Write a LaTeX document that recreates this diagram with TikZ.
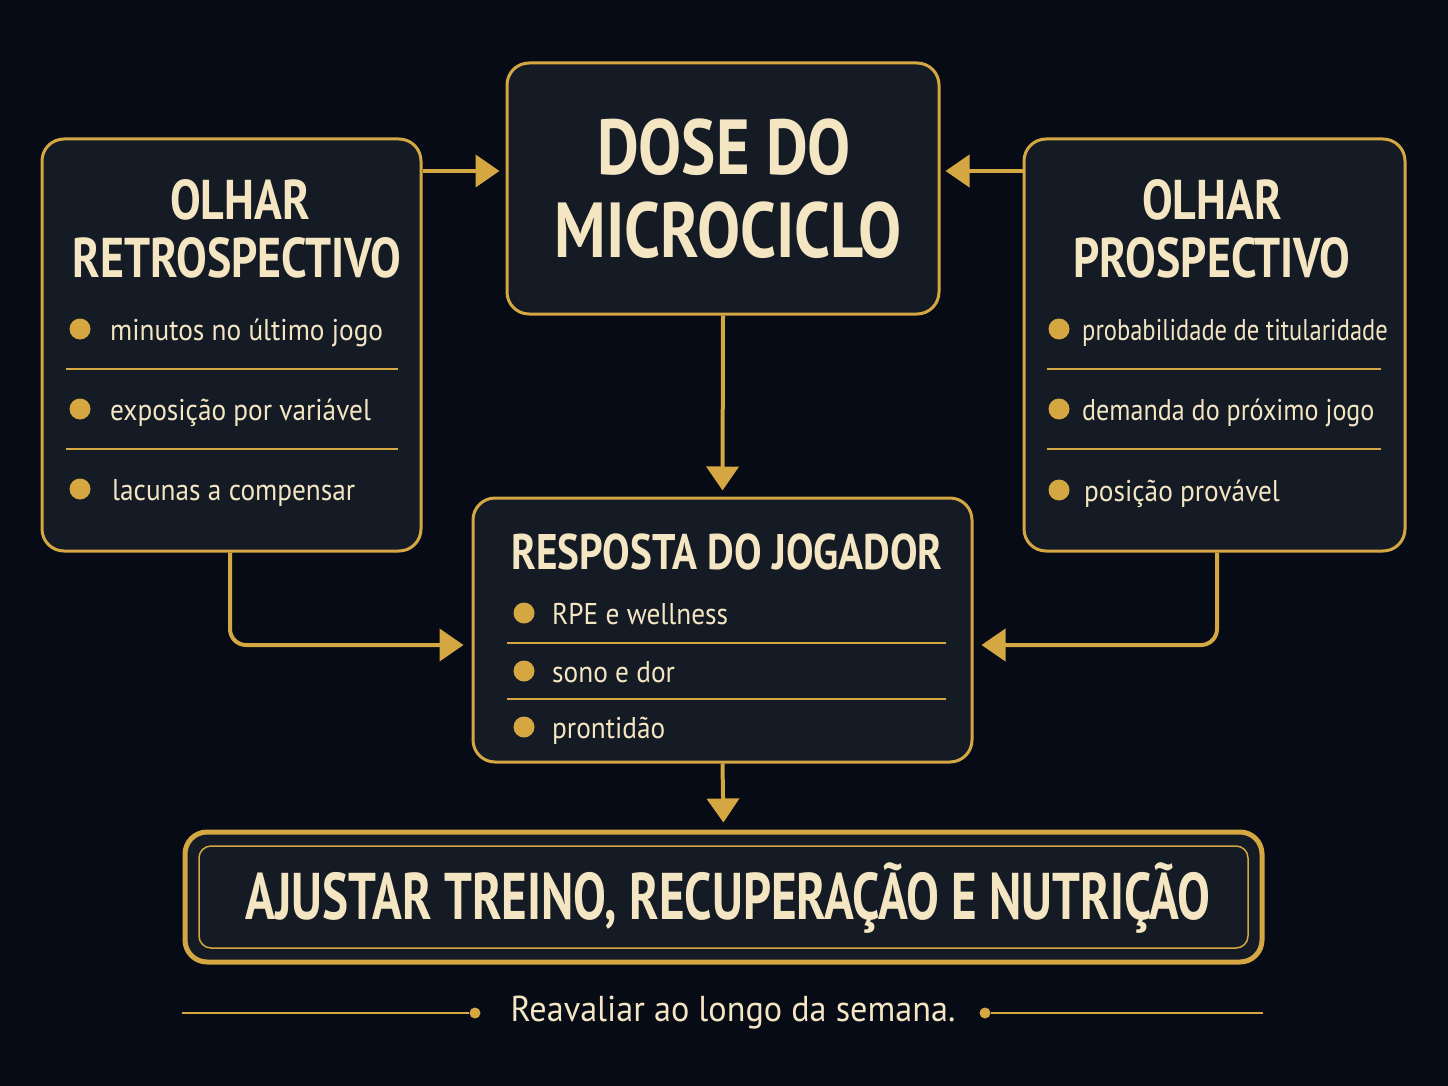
\documentclass[tikz,border=0pt]{standalone}
\usepackage{fontspec}
\usepackage{graphicx}
\setmainfont{PT Sans}
\newfontfamily\bodyfont{PT Sans}[FakeStretch=0.91]
\newfontfamily\footfont{PT Sans}[FakeStretch=0.95]
\usetikzlibrary{arrows.meta}
\definecolor{bg}{HTML}{060B16}
\definecolor{boxfill}{HTML}{151B25}
\definecolor{gold}{HTML}{D4A743}
\definecolor{cream}{HTML}{F4E6C3}
\newcommand\hsq[2]{\scalebox{#1}[1]{#2}}
\tikzset{
  box/.style={draw=gold, line width=3pt, fill=boxfill, rounded corners=22pt},
  ttl/.style={text=cream, font=\bfseries, align=center, inner sep=0pt},
  item/.style={text=cream, font=\bodyfont\fontsize{30}{32}\selectfont, anchor=base west, inner sep=0pt},
  dot/.style={circle, fill=gold, minimum size=21pt, inner sep=0pt},
  sep/.style={draw=gold, line width=1.5pt},
  conn/.style={draw=gold, line width=4pt, -{Triangle[length=24pt,width=32pt]}, rounded corners=16pt},
  fline/.style={draw=gold, line width=1.5pt},
  fdot/.style={circle, fill=gold, minimum size=11pt, inner sep=0pt}
}
\begin{document}
\begin{tikzpicture}[x=1pt,y=-1pt]
\fill[bg] (0,0) rectangle (1448,1086);
\useasboundingbox (0,0) rectangle (1448,1086);
% boxes
\node[box, minimum width=379pt, minimum height=412pt] (lbox) at (231.5,345) {};
\node[box, minimum width=432pt, minimum height=251pt] (dose) at (723,188.5) {};
\node[box, minimum width=381pt, minimum height=412pt] (rbox) at (1214.5,345) {};
\node[box, minimum width=499pt, minimum height=264pt] (mid) at (722.5,630) {};
\node[draw=gold, line width=5pt, fill=boxfill, rounded corners=22pt, minimum width=1077pt, minimum height=130pt] (outb) at (723.5,897) {};
\node[draw=gold, line width=1.5pt, rounded corners=12pt, minimum width=1049pt, minimum height=102pt] (inb) at (723.5,897) {};
% titles
\node[ttl, font=\bfseries\fontsize{56}{58}\selectfont] (lt1) at (240,200) {\hsq{0.82}{OLHAR}};
\node[ttl, font=\bfseries\fontsize{56}{58}\selectfont] (lt2) at (237,258) {\hsq{0.82}{RETROSPECTIVO}};
\node[ttl, font=\bfseries\fontsize{56}{58}\selectfont] (rt1) at (1212,200) {\hsq{0.82}{OLHAR}};
\node[ttl, font=\bfseries\fontsize{56}{58}\selectfont] (rt2) at (1212,258) {\hsq{0.82}{PROSPECTIVO}};
\node[ttl, font=\bfseries\fontsize{78}{80}\selectfont] (dt1) at (724,147) {\hsq{0.826}{DOSE DO}};
\node[ttl, font=\bfseries\fontsize{78}{80}\selectfont] (dt2) at (728,230) {\hsq{0.826}{MICROCICLO}};
\node[ttl, font=\bfseries\fontsize{50}{52}\selectfont] (mt) at (727,552) {\hsq{0.824}{RESPOSTA DO JOGADOR}};
\node[ttl, font=\bfseries\fontsize{66}{68}\selectfont] (bt) at (728,898) {\hsq{0.744}{AJUSTAR TREINO, RECUPERAÇÃO E NUTRIÇÃO}};
% left items
\node[dot] (ld1) at (80,329) {};
\node[dot] (ld2) at (80,409) {};
\node[dot] (ld3) at (80,489) {};
\node[item] (li1) at (110,340) {minutos no último jogo};
\node[item] (li2) at (110,420) {exposição por variável};
\node[item] (li3) at (112,500) {lacunas a compensar};
\coordinate (ls1a) at (66,369); \coordinate (ls1b) at (398,369);
\coordinate (ls2a) at (66,449); \coordinate (ls2b) at (398,449);
\draw[sep] (ls1a) -- (ls1b);
\draw[sep] (ls2a) -- (ls2b);
% right items
\node[dot] (rd1) at (1059,329) {};
\node[dot] (rd2) at (1059,409) {};
\node[dot] (rd3) at (1059,490) {};
\node[item] (ri1) at (1082,340) {\hsq{0.9}{probabilidade de titularidade}};
\node[item] (ri2) at (1082,420) {\hsq{0.955}{demanda do próximo jogo}};
\node[item] (ri3) at (1084,501) {posição provável};
\coordinate (rs1a) at (1047,369); \coordinate (rs1b) at (1381,369);
\coordinate (rs2a) at (1047,449); \coordinate (rs2b) at (1381,449);
\draw[sep] (rs1a) -- (rs1b);
\draw[sep] (rs2a) -- (rs2b);
% middle items
\node[dot] (md1) at (524,613) {};
\node[dot] (md2) at (524,671) {};
\node[dot] (md3) at (524,727) {};
\node[item] (mi1) at (552,624) {RPE e wellness};
\node[item] (mi2) at (552,682) {sono e dor};
\node[item] (mi3) at (552,738) {prontidão};
\coordinate (ms1a) at (507,643); \coordinate (ms1b) at (946,643);
\coordinate (ms2a) at (507,699); \coordinate (ms2b) at (946,699);
\draw[sep] (ms1a) -- (ms1b);
\draw[sep] (ms2a) -- (ms2b);
% connectors
\coordinate (ya) at (0,171);
\coordinate (yb) at (0,645);
\coordinate (lx) at (230,0);
\coordinate (rx) at (1217,0);
\draw[conn, shorten >=6pt] (lbox.east |- ya) -- (dose.west |- ya);
\draw[conn, shorten >=5pt] (rbox.west |- ya) -- (dose.east |- ya);
\draw[conn, shorten >=6pt] (dose.south) -- (mid.north);
\draw[conn, shorten >=8pt] (lx |- lbox.south) -- (lx |- yb) -- (mid.west |- yb);
\draw[conn, shorten >=8pt] (rx |- rbox.south) -- (rx |- yb) -- (mid.east |- yb);
\draw[conn, shorten >=7pt] (mid.south) -- (outb.north);
% footer
\node[text=cream, font=\footfont\fontsize{36}{38}\selectfont, inner sep=0pt] (foot) at (733,1013) {Reavaliar ao longo da semana.};
\node[fdot] (fd1) at (475,1013) {};
\node[fdot] (fd2) at (985,1013) {};
\coordinate (fl1) at (182,1013);
\coordinate (fl2) at (1263,1013);
\draw[fline] (fl1) -- (fd1);
\draw[fline] (fd2) -- (fl2);
\end{tikzpicture}
\end{document}
